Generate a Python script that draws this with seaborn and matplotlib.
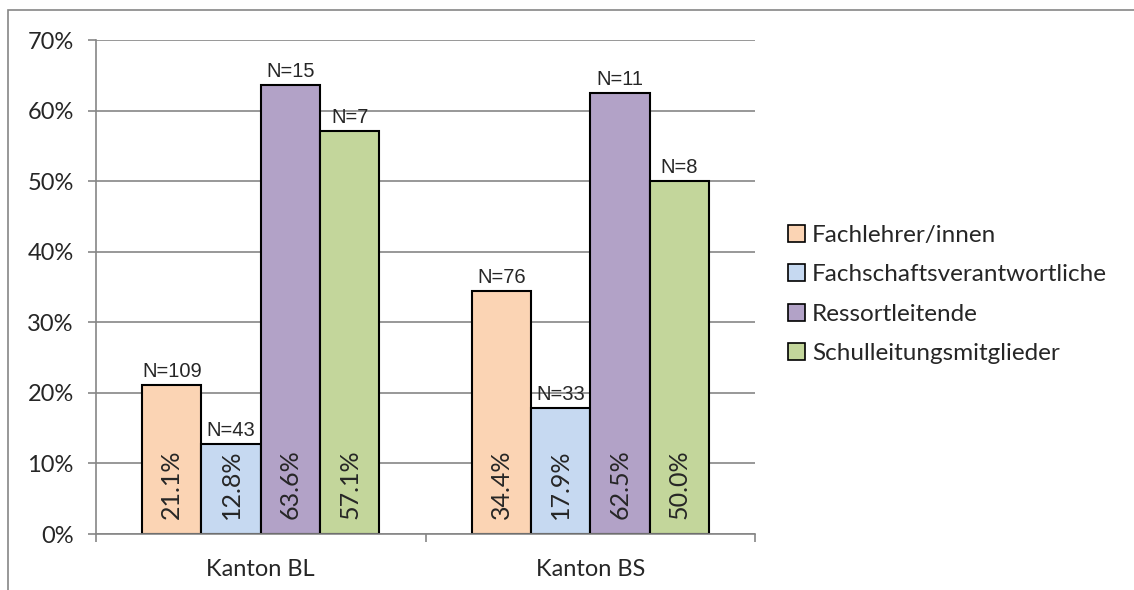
import pandas as pd
import seaborn as sns
import matplotlib.pyplot as plt
from matplotlib.patches import Rectangle
from matplotlib.ticker import PercentFormatter, FixedLocator

sns.set_style("white")
plt.rcParams['font.family'] = ['Lato', 'DejaVu Sans']

# Data
KANTONE = ['Kanton BL', 'Kanton BS']
GRUPPEN = ['Fachlehrer/innen', 'Fachschaftsverantwortliche', 'Ressortleitende', 'Schulleitungsmitglieder']
ANTEIL_BL = [21.1, 12.8, 63.6, 57.1]
ANTEIL_BS = [34.4, 17.9, 62.5, 50.0]
N_BL = [109, 43, 15, 7]
N_BS = [76, 33, 11, 8]
FARBEN = ['#FBD4B4', '#C6D9F1', '#B2A2C7', '#C3D69B']

df = pd.DataFrame({
    'kanton': [KANTONE[0]] * 4 + [KANTONE[1]] * 4,
    'gruppe': GRUPPEN * 2,
    'anteil': ANTEIL_BL + ANTEIL_BS,
    'n': N_BL + N_BS,
})

fig = plt.figure(figsize=(11.34, 5.9), dpi=100)
ax = fig.add_axes([0.0847, 0.0949, 0.5811, 0.8373])

sns.barplot(data=df, x='kanton', y='anteil', hue='gruppe', hue_order=GRUPPEN,
            palette=FARBEN, width=0.72, gap=0, edgecolor='black', linewidth=1.5,
            saturation=1, ax=ax)

# Labels: N above, percent inside at base
for cont, gruppe in zip(ax.containers, GRUPPEN):
    sub = df[df['gruppe'] == gruppe]
    for bar, val, n in zip(cont, sub['anteil'], sub['n']):
        x = bar.get_x() + bar.get_width() / 2
        ax.annotate(f"N={n}", (x, bar.get_height()), xytext=(0, 3), textcoords='offset points',
                    ha='center', va='bottom', fontsize=14.5, family=['Liberation Sans'])
        ax.annotate(f"{val:.1f}%", (x, 0), xytext=(0, 11), textcoords='offset points',
                    ha='center', va='bottom', rotation=90, fontsize=18)

ax.set_ylim(0, 70)
ax.set_xlim(-0.5, 1.5)
ax.yaxis.set_major_formatter(PercentFormatter(decimals=0))
ax.set_yticks(range(0, 71, 10))
ax.yaxis.grid(True, color='#868686', linewidth=1.2)
ax.set_axisbelow(True)

# x ticks at category boundaries, labels centered
ax.xaxis.set_major_locator(FixedLocator([-0.5, 0.5, 1.5]))
ax.xaxis.set_major_formatter(plt.NullFormatter())
ax.xaxis.set_minor_locator(FixedLocator([0, 1]))
ax.set_xticklabels(KANTONE, minor=True)
ax.tick_params(axis='x', which='major', length=6, color='#868686', width=1.2, bottom=True)
ax.tick_params(axis='x', which='minor', length=0, labelsize=17, pad=18)
ax.tick_params(axis='y', length=6, color='#868686', width=1.2, labelsize=17, pad=10, left=True)

for side in ['top', 'right']:
    ax.spines[side].set_visible(False)
for side in ['left', 'bottom']:
    ax.spines[side].set_color('#868686')
    ax.spines[side].set_linewidth(1.2)

ax.set_xlabel('')
ax.set_ylabel('')

leg = ax.legend(loc='center left', bbox_to_anchor=(1.035, 0.485), frameon=False, fontsize=17.5,
                handlelength=0.7, handleheight=0.7, handletextpad=0.3, labelspacing=0.75,
                borderaxespad=0)
for h in leg.legend_handles:
    h.set_edgecolor('black')
    h.set_linewidth(1.2)

# outer chart border
fig.patches.append(Rectangle((8 / 1134, -0.1), 1.2, 1 - 10 / 590 + 0.1, transform=fig.transFigure,
                             fill=False, edgecolor='#868686', linewidth=1.2))

plt.savefig('out.png', dpi=100)
